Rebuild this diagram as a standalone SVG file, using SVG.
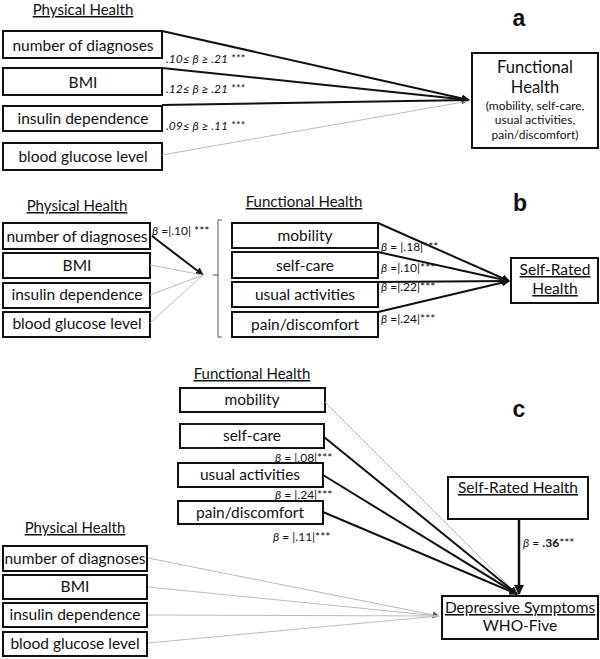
<svg xmlns="http://www.w3.org/2000/svg" width="600" height="659" viewBox="0 0 600 659">
<defs>
<style>
text{font-family:Lato,"Open Sans","Liberation Sans",sans-serif;fill:#111}
.box{fill:#fff;stroke:#111;stroke-width:2}
.lbl{font-size:15.5px;text-anchor:middle}
.ttl{font-size:15px;text-anchor:middle;text-decoration:underline}
.beta{font-size:12px;font-style:italic}
.betan{font-size:12px}
.sec{font-family:"Liberation Sans",Arial,sans-serif;font-size:23px;font-weight:bold;text-anchor:middle}
.dk{stroke:#111;stroke-width:2;fill:none}
.lt{stroke:#bbb;stroke-width:1;fill:none}
</style>
<marker id="ah" viewBox="0 0 10 10" refX="9" refY="5" markerWidth="4" markerHeight="4" orient="auto" markerUnits="strokeWidth"><path d="M0,0 L10,5 L0,10 z" fill="#111"/></marker>
<marker id="ahg" viewBox="0 0 10 10" refX="9" refY="5" markerWidth="7" markerHeight="7" orient="auto" markerUnits="strokeWidth"><path d="M0,0 L10,5 L0,10 z" fill="#555"/></marker>
</defs>

<!-- Section a -->
<text class="sec" x="519" y="26">a</text>
<text class="ttl" x="83" y="15">Physical Health</text>
<g id="a-diag"><rect class="box" x="3" y="31" width="159" height="27"/><text class="lbl" x="83" y="51">number of diagnoses</text></g>
<g id="a-bmi"><rect class="box" x="3" y="68" width="159" height="27"/><text class="lbl" x="83" y="88">BMI</text></g>
<g id="a-ins"><rect class="box" x="3" y="106" width="159" height="25"/><text class="lbl" x="83" y="124">insulin dependence</text></g>
<g id="a-bgl"><rect class="box" x="3" y="143" width="159" height="27"/><text class="lbl" x="83" y="162">blood glucose level</text></g>
<g id="a-fh"><rect class="box" x="472" y="53" width="126" height="95"/>
<text class="lbl" x="535" y="73" style="font-size:16.5px">Functional</text>
<text class="lbl" x="535" y="93" style="font-size:16.5px">Health</text>
<text class="lbl" x="535" y="110" style="font-size:12px">(mobility, self-care,</text>
<text class="lbl" x="535" y="124" style="font-size:12px">usual activities,</text>
<text class="lbl" x="535" y="139" style="font-size:12px">pain/discomfort)</text></g>

<!-- Section b -->
<text class="sec" x="520" y="211">b</text>
<text class="ttl" x="77" y="211">Physical Health</text>
<g id="b-diag"><rect class="box" x="3" y="223" width="147" height="26"/><text class="lbl" x="77" y="242">number of diagnoses</text></g>
<g id="b-bmi"><rect class="box" x="3" y="253" width="147" height="25"/><text class="lbl" x="77" y="271">BMI</text></g>
<g id="b-ins"><rect class="box" x="3" y="283" width="147" height="25"/><text class="lbl" x="77" y="300">insulin dependence</text></g>
<g id="b-bgl"><rect class="box" x="3" y="312" width="147" height="25"/><text class="lbl" x="77" y="329">blood glucose level</text></g>
<text class="ttl" x="304" y="207">Functional Health</text>
<g id="b-mob"><rect class="box" x="232" y="223" width="146" height="25"/><text class="lbl" x="305" y="241">mobility</text></g>
<g id="b-sc"><rect class="box" x="232" y="252" width="146" height="26"/><text class="lbl" x="305" y="271">self-care</text></g>
<g id="b-ua"><rect class="box" x="232" y="282" width="146" height="25"/><text class="lbl" x="305" y="300">usual activities</text></g>
<g id="b-pd"><rect class="box" x="232" y="312" width="146" height="25"/><text class="lbl" x="305" y="330">pain/discomfort</text></g>
<g id="b-srh"><rect class="box" x="511" y="258" width="87" height="45"/>
<text class="ttl" x="555" y="275" style="font-size:15.5px">Self-Rated</text>
<text class="ttl" x="555" y="294" style="font-size:15.5px">Health</text></g>
<path id="b-bracket" d="M222,220 H218 V337 H222 M218,275 H213" stroke="#555" stroke-width="1" fill="none"/>

<!-- Section c -->
<text class="sec" x="519" y="417">c</text>
<text class="ttl" x="252" y="379">Functional Health</text>
<g id="c-mob"><rect class="box" x="180" y="388" width="145" height="24"/><text class="lbl" x="252" y="405">mobility</text></g>
<g id="c-sc"><rect class="box" x="180" y="424" width="144" height="24"/><text class="lbl" x="252" y="441">self-care</text></g>
<g id="c-ua"><rect class="box" x="178" y="463" width="145" height="24"/><text class="lbl" x="250" y="480">usual activities</text></g>
<g id="c-pd"><rect class="box" x="178" y="501" width="145" height="23"/><text class="lbl" x="250" y="518">pain/discomfort</text></g>
<text class="ttl" x="75" y="533">Physical Health</text>
<g id="c-diag"><rect class="box" x="3" y="546" width="144" height="25"/><text class="lbl" x="75" y="564">number of diagnoses</text></g>
<g id="c-bmi"><rect class="box" x="3" y="575" width="144" height="24"/><text class="lbl" x="75" y="592">BMI</text></g>
<g id="c-ins"><rect class="box" x="3" y="603" width="144" height="24"/><text class="lbl" x="75" y="620">insulin dependence</text></g>
<g id="c-bgl"><rect class="box" x="3" y="632" width="144" height="24"/><text class="lbl" x="75" y="649">blood glucose level</text></g>
<g id="c-srh"><rect class="box" x="448" y="477" width="140" height="42"/><text class="ttl" x="518" y="493" style="font-size:15.5px">Self-Rated Health</text></g>
<g id="c-dep"><rect class="box" x="442" y="596" width="156" height="43"/>
<text class="ttl" x="520" y="613" style="font-size:15.5px">Depressive Symptoms</text>
<text class="lbl" x="520" y="631">WHO-Five</text></g>

<!-- Connectors -->
<g id="connectors">
<path class="dk" d="M162,31 L469,100" marker-end="url(#ah)"/>
<path class="dk" d="M162,68 L469,100" marker-end="url(#ah)"/>
<path class="dk" d="M162,105 L469,100" marker-end="url(#ah)"/>
<path class="lt" d="M162,155 L469,101"/>

<path class="dk" d="M152,236 L203,275" marker-end="url(#ah)"/>
<path class="lt" d="M150,265 L203,275"/>
<path class="lt" d="M150,295 L203,275"/>
<path class="lt" d="M150,323 L203,275"/>

<path class="dk" d="M378,223 L509,281" marker-end="url(#ah)"/>
<path class="dk" d="M378,252 L509,281" marker-end="url(#ah)"/>
<path class="dk" d="M378,282 L509,281" marker-end="url(#ah)"/>
<path class="dk" d="M378,312 L509,281" marker-end="url(#ah)"/>

<path class="lt" d="M325,402 L517,594"/>
<path class="dk" d="M324,437 L517,594" marker-end="url(#ah)"/>
<path class="dk" d="M323,475 L517,594" marker-end="url(#ah)"/>
<path class="dk" d="M323,512 L517,594" marker-end="url(#ah)"/>
<path class="dk" d="M519,519 L519,594" style="stroke-width:2.5" marker-end="url(#ah)"/>

<path class="lt" d="M148,558 L439,616" marker-end="url(#ahg)"/>
<path class="lt" d="M148,587 L439,616"/>
<path class="lt" d="M148,615 L439,616"/>
<path class="lt" d="M148,643 L439,616"/>
</g>

<!-- Labels -->
<text class="beta" x="166" y="63">.10≤ β ≥ .21 ***</text>
<text class="beta" x="166" y="93">.12≤ β ≥ .21 ***</text>
<text class="beta" x="166" y="130">.09≤ β ≥ .11 ***</text>
<text class="betan" x="152" y="235"><tspan font-style="italic">β</tspan> =|.10|  ***</text>
<text class="betan" x="381" y="251"><tspan font-style="italic">β</tspan> = |.18|***</text>
<text class="betan" x="381" y="272"><tspan font-style="italic">β</tspan> =|.10|***</text>
<text class="betan" x="381" y="291"><tspan font-style="italic">β</tspan> =|.22|***</text>
<text class="betan" x="381" y="323"><tspan font-style="italic">β</tspan> =|.24|***</text>
<text class="betan" x="275" y="462"><tspan font-style="italic">β</tspan> = |.08|***</text>
<text class="betan" x="275" y="499"><tspan font-style="italic">β</tspan> = |.24|***</text>
<text class="betan" x="273" y="541"><tspan font-style="italic">β</tspan> = |.11|***</text>
<text class="betan" x="523" y="547"><tspan font-style="italic">β</tspan> = <tspan font-weight="bold">.36</tspan>***</text>
</svg>
